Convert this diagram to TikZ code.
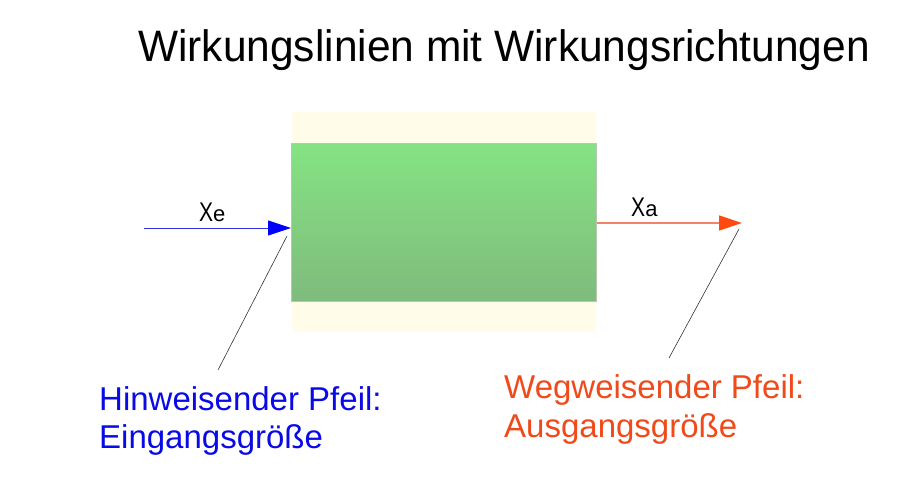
\documentclass[tikz,border=0pt]{standalone}
\usepackage{fontspec}
\setmainfont{Liberation Sans}
\usetikzlibrary{arrows.meta}
\definecolor{bgyellow}{HTML}{FFFDE9}
\definecolor{gtop}{HTML}{85E383}
\definecolor{gbot}{HTML}{7FBB7D}
\definecolor{gborder}{HTML}{B5C9B0}
\definecolor{inblue}{HTML}{0000FF}
\definecolor{inlinec}{HTML}{3030DD}
\definecolor{outorange}{HTML}{FF4A12}
\definecolor{outlinec}{HTML}{F4826A}
\definecolor{txtblue}{HTML}{0A0AE6}
\definecolor{txtorange}{HTML}{F04A1A}
\begin{document}
\begin{tikzpicture}[x=1pt,y=-1pt,
  inarrow/.style={draw=inlinec, line width=0.9pt, -{Triangle[length=23pt,width=15pt,fill=inblue,color=inblue]}},
  outarrow/.style={draw=outlinec, line width=1.3pt, -{Triangle[length=23pt,width=15pt,fill=outorange,color=outorange]}},
  pointer/.style={draw=black!80, line width=0.6pt},
  bigtext/.style={font=\fontsize{33}{38}\selectfont, inner sep=0pt, anchor=base west},
  varlabel/.style={inner sep=0pt, anchor=base west}
]
\useasboundingbox (0,0) rectangle (902,494);
\fill[white] (0,0) rectangle (902,494);

\node (title) [anchor=base, inner sep=0pt, font=\fontsize{44}{50}\selectfont] at (504,62) {\scalebox{0.965}[1]{Wirkungslinien mit Wirkungsrichtungen}};

\node (bg) [fill=bgyellow, minimum width=304pt, minimum height=220pt, inner sep=0pt, anchor=north west] at (292,112) {};
\node (block) [top color=gtop, bottom color=gbot, draw=gborder, line width=0.8pt, minimum width=305pt, minimum height=158pt, inner sep=0pt, anchor=north west] at (291,143) {};

\coordinate (inStart) at (144,228);
\draw[inarrow] (inStart) -- (block.west |- inStart);
\coordinate (outEnd) at (742,223);
\draw[outarrow] (block.east |- outEnd) -- (outEnd);

\node (xe) [varlabel] at (199,222) {\fontsize{27}{30}\selectfont\scalebox{0.78}[1]{X}\fontsize{22}{24}\selectfont e};
\node (xa) [varlabel] at (631,217) {\fontsize{27}{30}\selectfont\scalebox{0.78}[1]{X}\fontsize{22}{24}\selectfont a};

\node (inA) [bigtext, text=txtblue] at (99,410) {Hinweisender Pfeil:};
\node (inB) [bigtext, text=txtblue] at (99,448) {Eingangsgröße};
\node (outA) [bigtext, text=txtorange] at (504,398) {Wegweisender Pfeil:};
\node (outB) [bigtext, text=txtorange] at (504,437) {Ausgangsgröße};

\coordinate (inTip) at (287,236);
\coordinate (inFoot) at (218,370);
\draw[pointer] (inFoot) -- (inTip);
\coordinate (outTip) at (739,229);
\coordinate (outFoot) at (669,358);
\draw[pointer] (outFoot) -- (outTip);
\end{tikzpicture}
\end{document}
